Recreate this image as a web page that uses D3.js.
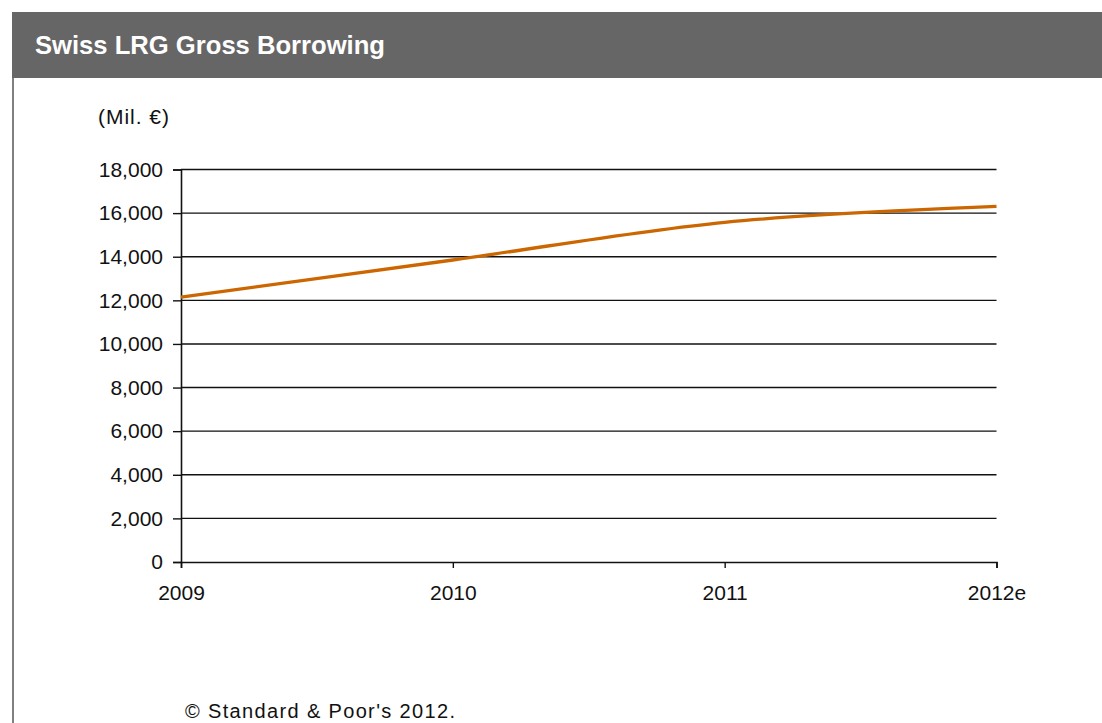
<!DOCTYPE html>
<html>
<head>
<meta charset="utf-8">
<script src="https://cdn.jsdelivr.net/npm/d3@7"></script>
<style>
  html, body { margin: 0; padding: 0; background: #fff; }
  svg { display: block; }
</style>
</head>
<body>
<svg id="chart" width="1102" height="723"></svg>
<script>
// Swiss LRG gross borrowing, millions of euros
const years = ["2009", "2010", "2011", "2012e"];
const borrowing = [12150, 13850, 15580, 16310];
const yTicks = [0, 2000, 4000, 6000, 8000, 10000, 12000, 14000, 16000, 18000];

const svg = d3.select("#chart");
const W = 1102, H = 723;
const font = "Arial, 'Liberation Sans', sans-serif";

// frame: left rule and title bar
svg.append("line").attr("x1", 13).attr("x2", 13).attr("y1", 12).attr("y2", H)
  .attr("stroke", "#808080").attr("stroke-width", 2);
svg.append("rect").attr("x", 12).attr("y", 12).attr("width", W - 12).attr("height", 66)
  .attr("fill", "#666666");
svg.append("text").attr("x", 35).attr("y", 54)
  .attr("fill", "#fff").attr("font-family", font)
  .attr("font-weight", "bold").attr("font-size", 25)
  .attr("textLength", 350).attr("lengthAdjust", "spacingAndGlyphs")
  .text("Swiss LRG Gross Borrowing");

const plot = { left: 181, right: 996.5, top: 169.5, bottom: 562 };

const x = d3.scalePoint().domain(years).range([plot.left, plot.right]);
const y = d3.scaleLinear().domain([0, 18000]).range([plot.bottom, plot.top]);

// unit label
svg.append("text").attr("x", 98).attr("y", 124)
  .attr("font-family", font).attr("font-size", 21).attr("fill", "#111")
  .attr("textLength", 71).attr("lengthAdjust", "spacing")
  .text("(Mil. €)");

// horizontal grid
svg.append("g").selectAll("line").data(yTicks.filter(d => d > 0)).join("line")
  .attr("x1", plot.left).attr("x2", plot.right)
  .attr("y1", d => y(d)).attr("y2", d => y(d))
  .attr("stroke", "#111").attr("stroke-width", 1.4);

// y axis
const yAxis = svg.append("g").attr("transform", `translate(${plot.left},0)`)
  .call(d3.axisLeft(y).tickValues(yTicks).tickFormat(d3.format(",")).tickSize(8).tickPadding(10));
yAxis.select(".domain").attr("stroke", "#111").attr("stroke-width", 1.6);
yAxis.selectAll(".tick line").attr("stroke", "#111").attr("stroke-width", 1.4);
yAxis.selectAll("text").attr("font-family", font).attr("font-size", 21).attr("fill", "#111");

// x axis
const xAxis = svg.append("g").attr("transform", `translate(0,${plot.bottom})`)
  .call(d3.axisBottom(x).tickSize(6).tickPadding(17));
xAxis.select(".domain").attr("stroke", "#111").attr("stroke-width", 1.6);
xAxis.selectAll(".tick line").attr("stroke", "#111").attr("stroke-width", 1.4);
xAxis.selectAll("text").attr("font-family", font).attr("font-size", 21).attr("fill", "#111");

// smoothed borrowing line
const line = d3.line()
  .x((d, i) => x(years[i]))
  .y(d => y(d))
  .curve(d3.curveCatmullRom.alpha(0));
svg.append("path").datum(borrowing)
  .attr("d", line)
  .attr("fill", "none").attr("stroke", "#CC6600").attr("stroke-width", 3.3);

// source note
svg.append("text").attr("x", 185).attr("y", 718)
  .attr("font-family", font).attr("font-size", 20).attr("fill", "#111")
  .attr("textLength", 270).attr("lengthAdjust", "spacing")
  .text("© Standard & Poor's 2012.");
</script>
</body>
</html>
